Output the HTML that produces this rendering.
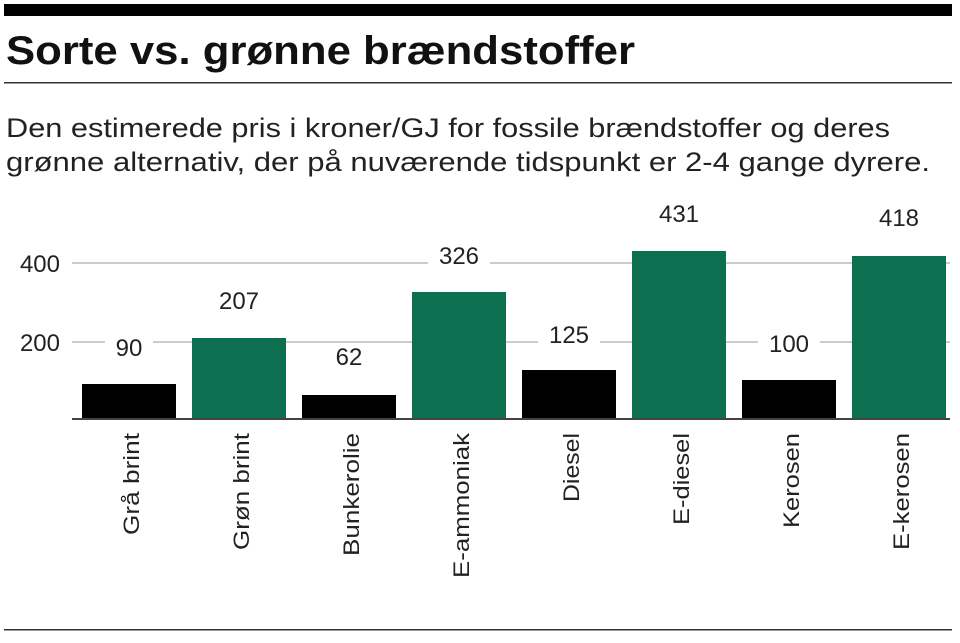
<!DOCTYPE html>
<html><head><meta charset="utf-8"><style>
body{margin:0;background:#fff;width:960px;height:638px;overflow:hidden;font-family:"Liberation Sans",sans-serif;}
</style></head><body>
<svg width="960" height="638" xmlns="http://www.w3.org/2000/svg" font-family="Liberation Sans, sans-serif">
<rect x="4" y="4" width="948" height="12" fill="#000"/>
<text x="6" y="64" font-size="40" font-weight="bold" fill="#111" textLength="629" lengthAdjust="spacingAndGlyphs">Sorte vs. grønne brændstoffer</text>
<rect x="4" y="82" width="948" height="1.5" fill="#333"/>
<text x="6" y="137" font-size="27" fill="#222" textLength="884" lengthAdjust="spacingAndGlyphs">Den estimerede pris i kroner/GJ for fossile brændstoffer og deres</text>
<text x="6" y="171" font-size="27" fill="#222" textLength="924" lengthAdjust="spacingAndGlyphs">grønne alternativ, der på nuværende tidspunkt er 2-4 gange dyrere.</text>
<g font-size="24" fill="#222">
<line x1="72" y1="263" x2="950" y2="263" stroke="#bbb" stroke-width="1.5"/>
<line x1="72" y1="342" x2="950" y2="342" stroke="#bbb" stroke-width="1.5"/>
<text x="60" y="272" text-anchor="end">400</text>
<text x="60" y="351" text-anchor="end">200</text>
</g>
<g>
<rect x="82" y="384" width="94" height="35" fill="#000"/>
<rect x="192" y="338" width="94" height="81" fill="#0c7050"/>
<rect x="302" y="395" width="94" height="24" fill="#000"/>
<rect x="412" y="292" width="94" height="127" fill="#0c7050"/>
<rect x="522" y="370" width="94" height="49" fill="#000"/>
<rect x="632" y="251" width="94" height="168" fill="#0c7050"/>
<rect x="742" y="380" width="94" height="39" fill="#000"/>
<rect x="852" y="256" width="94" height="163" fill="#0c7050"/>
</g>
<g font-size="24" fill="#222" text-anchor="middle">
<rect x="105" y="332" width="48" height="28" fill="#fff"/><text x="129" y="356">90</text>
<text x="239" y="309">207</text>
<rect x="325" y="344" width="48" height="28" fill="#fff"/><text x="349" y="365">62</text>
<rect x="428" y="244" width="62" height="28" fill="#fff"/><text x="459" y="264">326</text>
<rect x="538" y="328" width="62" height="28" fill="#fff"/><text x="569" y="343">125</text>
<text x="679" y="222">431</text>
<rect x="758" y="328" width="62" height="28" fill="#fff"/><text x="789" y="352">100</text>
<text x="899" y="226">418</text>
</g>
<line x1="72" y1="419" x2="950" y2="419" stroke="#444" stroke-width="2"/>
<g font-size="22" fill="#222" text-anchor="end">
<text transform="translate(139,433) rotate(-90)" textLength="102" lengthAdjust="spacingAndGlyphs">Grå brint</text>
<text transform="translate(249,433) rotate(-90)" textLength="117" lengthAdjust="spacingAndGlyphs">Grøn brint</text>
<text transform="translate(359,433) rotate(-90)" textLength="123" lengthAdjust="spacingAndGlyphs">Bunkerolie</text>
<text transform="translate(469,433) rotate(-90)" textLength="145" lengthAdjust="spacingAndGlyphs">E-ammoniak</text>
<text transform="translate(579,433) rotate(-90)" textLength="69" lengthAdjust="spacingAndGlyphs">Diesel</text>
<text transform="translate(689,433) rotate(-90)" textLength="92" lengthAdjust="spacingAndGlyphs">E-diesel</text>
<text transform="translate(799,433) rotate(-90)" textLength="95" lengthAdjust="spacingAndGlyphs">Kerosen</text>
<text transform="translate(909,433) rotate(-90)" textLength="117" lengthAdjust="spacingAndGlyphs">E-kerosen</text>
</g>
<rect x="4" y="629" width="948" height="1.5" fill="#333"/>
</svg>
</body></html>
